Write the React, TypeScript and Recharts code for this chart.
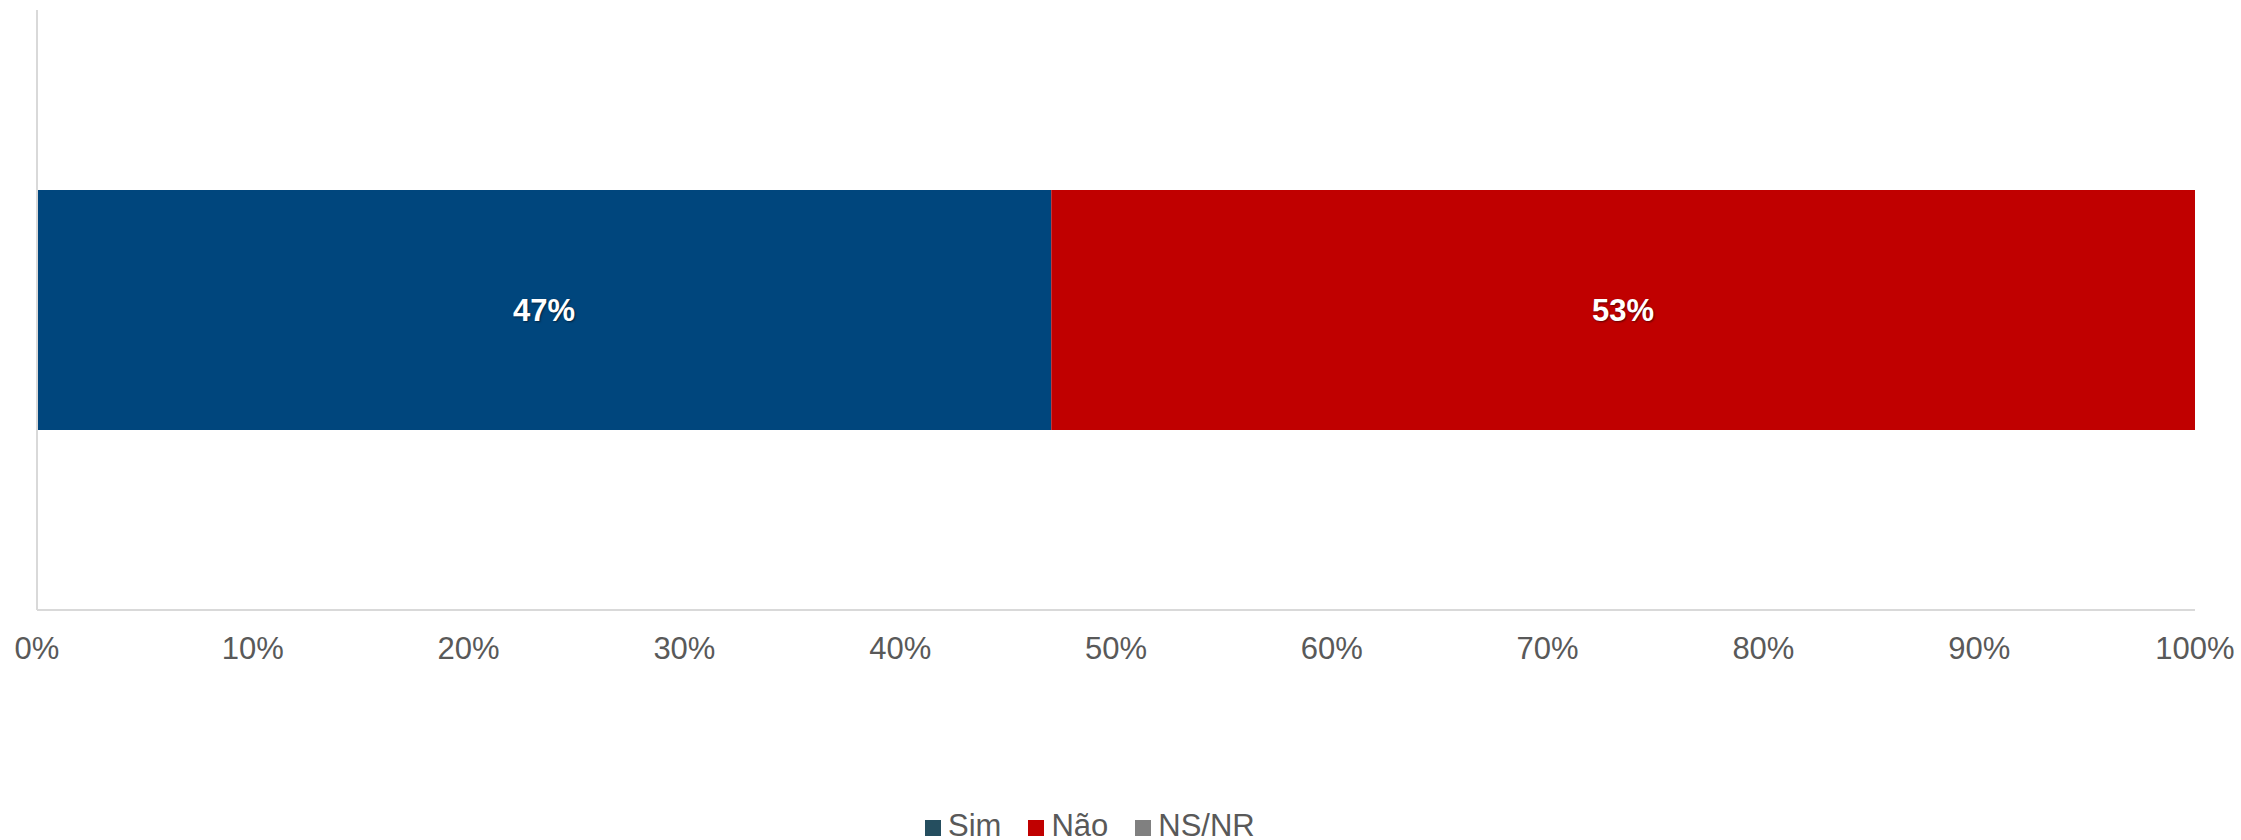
import React from "react"
import { BarChart, Bar, XAxis, YAxis, LabelList } from "recharts"

const categories = [""]
const simValues = [47]
const naoValues = [53]
const nsnrValues = [0]
const xTicks = [0, 10, 20, 30, 40, 50, 60, 70, 80, 90, 100]

const seriesInfo = [
  { key: "sim", name: "Sim", color: "#00467D", legendColor: "#254E5F" },
  { key: "nao", name: "Não", color: "#C00000", legendColor: "#C00000" },
  { key: "nsnr", name: "NS/NR", color: "#808080", legendColor: "#808080" },
]

const data = categories.map((c, i) => ({
  name: c,
  sim: simValues[i],
  nao: naoValues[i],
  nsnr: nsnrValues[i],
}))

const FONT = "'Liberation Sans', Arial, sans-serif"

const pctLabel = (v: any) => (v ? `${v}%` : "")

export default function App() {
  return (
    <div style={{ position: "absolute", left: 0, top: 0, width: 2241, height: 840, background: "#fff" }}>
      <BarChart
        width={2241}
        height={840}
        data={data}
        layout="vertical"
        margin={{ top: 10, right: 46, left: 36, bottom: 170 }}
      >
        <XAxis
          type="number"
          domain={[0, 100]}
          ticks={xTicks}
          tickFormatter={(v) => `${v}%`}
          axisLine={{ stroke: "#d9d9d9", strokeWidth: 2 }}
          tickLine={false}
          tickMargin={21}
          height={60}
          tick={{ fontSize: 31, fill: "#595959", fontFamily: FONT }}
          interval={0}
        />
        <YAxis
          type="category"
          dataKey="name"
          width={1}
          tick={false}
          tickLine={false}
          axisLine={{ stroke: "#d9d9d9", strokeWidth: 2 }}
        />
        {seriesInfo.map((s) => (
          <Bar
            key={s.key}
            dataKey={s.key}
            name={s.name}
            stackId="a"
            fill={s.color}
            barSize={240}
            isAnimationActive={false}
          >
            <LabelList
              dataKey={s.key}
              position="center"
              formatter={pctLabel}
              style={{
                fill: "#fff",
                fontSize: 31,
                fontWeight: "bold",
                fontFamily: FONT,
                textShadow: "1px 1px 2px rgba(0,0,0,0.5)",
              }}
            />
          </Bar>
        ))}
      </BarChart>
      <div
        style={{
          position: "absolute",
          left: 925,
          top: 808,
          display: "flex",
          alignItems: "center",
          fontFamily: FONT,
          fontSize: 31,
          color: "#595959",
          lineHeight: "36px",
          whiteSpace: "nowrap",
        }}
      >
        {seriesInfo.map((s) => (
          <div key={s.key} style={{ display: "flex", alignItems: "center", marginRight: 27 }}>
            <span
              style={{ display: "inline-block", width: 16, height: 16, background: s.legendColor, marginRight: 7, marginTop: 3 }}
            />
            <span>{s.name}</span>
          </div>
        ))}
      </div>
    </div>
  )
}
